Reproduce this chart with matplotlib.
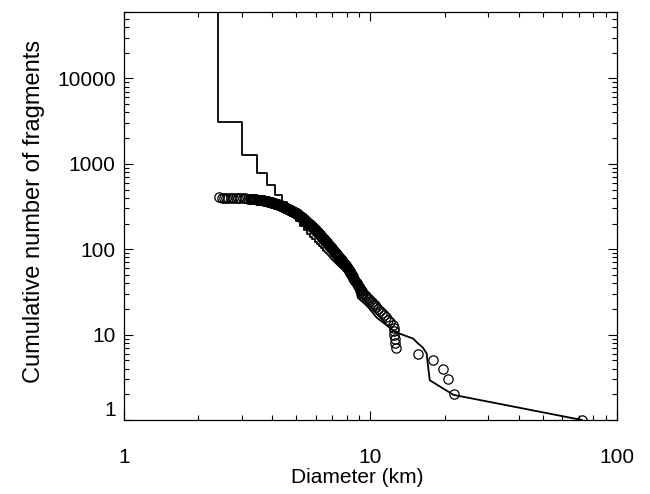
"""
Cumulative size distribution of fragments: model (line) vs observed (circles).
"""

import matplotlib

matplotlib.use("Agg")
import matplotlib.pyplot as plt
from matplotlib.ticker import FuncFormatter, LogLocator, NullFormatter

plt.rcParams["font.family"] = ["Liberation Sans", "DejaVu Sans"]

# Observed fragment diameters (km), largest first; rank = cumulative number
circle_d = [
    72.1, 21.8, 20.6, 19.7, 17.9, 15.6, 12.7, 12.6, 12.6, 12.5,
    12.5, 12.4, 12.3, 12.0, 11.8, 11.6, 11.35, 11.1, 10.9, 10.7,
    10.55, 10.4, 10.25, 10.1, 9.98, 9.86, 9.72, 9.59, 9.46, 9.33,
    9.26, 9.20, 9.14, 9.09, 9.03, 8.98, 8.93, 8.88, 8.83, 8.78,
    8.73, 8.69, 8.65, 8.61, 8.57, 8.53, 8.49, 8.46, 8.42, 8.39,
    8.36, 8.33, 8.29, 8.26, 8.23, 8.20, 8.17, 8.14, 8.11, 8.08,
    8.05, 8.03, 7.99, 7.96, 7.92, 7.89, 7.85, 7.82, 7.78, 7.75,
    7.72, 7.69, 7.66, 7.63, 7.60, 7.57, 7.55, 7.52, 7.49, 7.46,
    7.44, 7.41, 7.38, 7.36, 7.33, 7.31, 7.29, 7.26, 7.24, 7.22,
    7.20, 7.17, 7.15, 7.13, 7.11, 7.08, 7.06, 7.04, 7.02, 7.00,
    6.98, 6.96, 6.94, 6.93, 6.91, 6.89, 6.87, 6.85, 6.83, 6.81,
    6.80, 6.78, 6.76, 6.74, 6.72, 6.71, 6.69, 6.67, 6.65, 6.64,
    6.62, 6.60, 6.59, 6.57, 6.55, 6.54, 6.52, 6.51, 6.49, 6.48,
    6.46, 6.45, 6.43, 6.42, 6.40, 6.39, 6.37, 6.36, 6.34, 6.33,
    6.31, 6.30, 6.29, 6.27, 6.26, 6.25, 6.23, 6.22, 6.21, 6.19,
    6.18, 6.17, 6.15, 6.14, 6.13, 6.12, 6.11, 6.09, 6.08, 6.07,
    6.06, 6.05, 6.03, 6.02, 6.01, 6.00, 5.99, 5.98, 5.96, 5.95,
    5.94, 5.93, 5.92, 5.91, 5.90, 5.88, 5.87, 5.86, 5.85, 5.84,
    5.83, 5.81, 5.80, 5.79, 5.78, 5.77, 5.76, 5.75, 5.73, 5.72,
    5.71, 5.70, 5.69, 5.67, 5.66, 5.65, 5.64, 5.62, 5.61, 5.60,
    5.59, 5.58, 5.57, 5.56, 5.55, 5.54, 5.53, 5.52, 5.51, 5.50,
    5.49, 5.48, 5.47, 5.46, 5.45, 5.44, 5.43, 5.42, 5.41, 5.40,
    5.39, 5.38, 5.37, 5.36, 5.35, 5.34, 5.33, 5.32, 5.31, 5.30,
    5.29, 5.28, 5.28, 5.27, 5.26, 5.25, 5.24, 5.23, 5.22, 5.21,
    5.20, 5.19, 5.18, 5.17, 5.16, 5.15, 5.15, 5.14, 5.13, 5.12,
    5.11, 5.10, 5.10, 5.09, 5.08, 5.07, 5.06, 5.06, 5.05, 5.04,
    5.03, 5.03, 5.01, 5.00, 4.99, 4.97, 4.96, 4.95, 4.94, 4.92,
    4.91, 4.90, 4.88, 4.87, 4.86, 4.85, 4.84, 4.82, 4.81, 4.80,
    4.79, 4.78, 4.76, 4.75, 4.74, 4.73, 4.72, 4.71, 4.70, 4.68,
    4.67, 4.66, 4.65, 4.64, 4.63, 4.62, 4.61, 4.60, 4.59, 4.58,
    4.56, 4.55, 4.54, 4.53, 4.52, 4.51, 4.50, 4.49, 4.48, 4.47,
    4.46, 4.45, 4.44, 4.43, 4.42, 4.41, 4.40, 4.39, 4.38, 4.37,
    4.36, 4.35, 4.34, 4.33, 4.32, 4.32, 4.31, 4.30, 4.29, 4.28,
    4.27, 4.26, 4.24, 4.23, 4.21, 4.20, 4.18, 4.17, 4.15, 4.14,
    4.12, 4.11, 4.09, 4.08, 4.07, 4.05, 4.04, 4.03, 4.02, 4.00,
    3.99, 3.98, 3.97, 3.95, 3.94, 3.93, 3.92, 3.90, 3.89, 3.88,
    3.86, 3.85, 3.84, 3.82, 3.81, 3.80, 3.78, 3.77, 3.76, 3.74,
    3.73, 3.70, 3.68, 3.65, 3.63, 3.60, 3.58, 3.55, 3.53, 3.50,
    3.48, 3.45, 3.43, 3.40, 3.38, 3.36, 3.33, 3.31, 3.28, 3.26,
    3.24, 3.17, 3.10, 3.03, 2.96, 2.90, 2.84, 2.77, 2.71, 2.65,
    2.60, 2.54, 2.49, 2.43,
]
circle_n = list(range(1, len(circle_d) + 1))

# Model: binned part (step) and continuous part
model_step_d = [2.40, 2.40, 3.02, 3.47, 3.81, 4.10, 4.36, 4.59, 4.80, 5.00,
                5.18, 5.35, 5.51, 5.66, 5.80, 5.93, 6.06, 6.19, 6.31, 6.42]
model_step_n = [1e6, 3080, 1283, 786, 565, 433, 361, 295, 245, 212,
                188, 168, 152, 140, 130, 122, 115, 109, 103, 98]

model_tail_d = [6.42, 6.70, 7.04, 7.50, 8.03, 8.41, 8.70, 8.90, 9.68, 10.6,
                11.7, 12.8, 13.2, 14.9, 15.6, 16.3, 16.9, 17.1, 17.4, 21.7, 72.1]
model_tail_n = [98, 87, 74, 62, 52, 44, 34, 26.9, 21.7, 15.8,
                12.7, 10.4, 10.2, 8.98, 7.86, 7.06, 6.01, 4.36, 2.92, 1.97, 1.0]

fig = plt.figure(figsize=(6.5, 4.94), dpi=100)
ax = fig.add_axes([0.1908, 0.1498, 0.7584, 0.8259])

ax.step(model_step_d, model_step_n, where="post", color="black", lw=1.3)
ax.plot(model_tail_d, model_tail_n, color="black", lw=1.3)
ax.plot(circle_d, circle_n, "o", mfc="none", mec="black", ms=6.7, mew=0.9)

ax.set_xscale("log")
ax.set_yscale("log")
ax.set_xlim(1, 100)
ax.set_ylim(1, 6e4)

fmt = FuncFormatter(lambda v, _: f"{v:g}")
ax.xaxis.set_major_formatter(fmt)
ax.yaxis.set_major_formatter(fmt)
ax.xaxis.set_minor_formatter(NullFormatter())
ax.yaxis.set_minor_formatter(NullFormatter())
ax.xaxis.set_minor_locator(LogLocator(subs=range(2, 10), numticks=20))
ax.yaxis.set_minor_locator(LogLocator(subs=range(2, 10), numticks=20))

ax.tick_params(which="both", direction="in", top=True, right=True,
               width=0.8, labelsize=15)
ax.tick_params(which="major", length=6.5)
ax.tick_params(which="minor", length=3.5)
ax.tick_params(axis="x", which="major", pad=20)
ax.tick_params(axis="y", which="major", pad=6)
for s in ax.spines.values():
    s.set_linewidth(0.9)

ax.set_xlabel("Diameter (km)", fontsize=15)
ax.xaxis.set_label_coords(0.473, -0.118)
ax.set_ylabel("Cumulative number of fragments", fontsize=17, labelpad=9)
ax.yaxis.label.set_y(0.512)

# bottom y label sits above the axis line, as in the original
fig.canvas.draw()
for tick in ax.yaxis.get_major_ticks():
    if tick.get_loc() == 1:
        tick.label1.set_va("bottom")

fig.savefig("out.png", dpi=100)
